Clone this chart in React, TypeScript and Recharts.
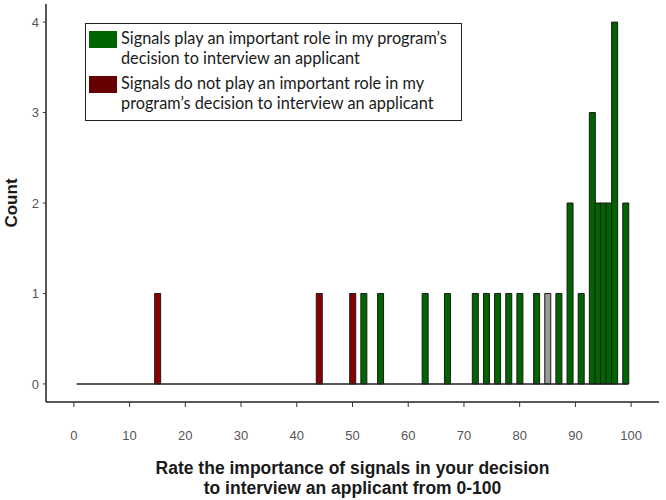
import { BarChart, Bar, XAxis, YAxis, ReferenceLine } from 'recharts'

// scores (0-100 rating) and how many programs gave each one
const importantScores = [52, 55, 63, 67, 72, 74, 76, 78, 80, 83, 87, 89, 91, 93, 94, 95, 96, 97, 99]
const importantCounts = [1, 1, 1, 1, 1, 1, 1, 1, 1, 1, 1, 2, 1, 3, 2, 2, 2, 4, 2]
const notImportantScores = [15, 44, 50]
const notImportantCounts = [1, 1, 1]
const otherScores = [85]
const otherCounts = [1]

const xTicks = [0, 10, 20, 30, 40, 50, 60, 70, 80, 90, 100]
const yTicks = [0, 1, 2, 3, 4]
const binRange = [0.5, 99.5]

const GREEN = '#006400'
const RED = '#8b0000'
const GRAY = '#999999'

const allScores = [...importantScores, ...notImportantScores, ...otherScores].sort((a, b) => a - b)
const data = allScores.map((score) => {
  const i = importantScores.indexOf(score)
  const n = notImportantScores.indexOf(score)
  const o = otherScores.indexOf(score)
  return {
    score,
    important: i >= 0 ? importantCounts[i] : 0,
    notImportant: n >= 0 ? notImportantCounts[n] : 0,
    other: o >= 0 ? otherCounts[o] : 0,
  }
})

const legendItems = [
  { color: GREEN, text: ['Signals play an important role in my program’s', 'decision to interview an applicant'] },
  { color: '#660000', text: ['Signals do not play an important role in my', 'program’s decision to interview an applicant'] },
]

const tickStyle = { fill: '#555', fontSize: 13, fontFamily: 'Liberation Sans, Arial, sans-serif' }
const titleFont = 'Liberation Sans, Arial, sans-serif'

function XTitle(props: any) {
  const { x, y, width } = props.viewBox
  const cx = x + width / 2
  return (
    <text x={cx} textAnchor='middle' fontFamily={titleFont} fontWeight='bold' fontSize={17.5} fill='#1a1a1a'>
      <tspan x={cx} y={y + 72}>Rate the importance of signals in your decision</tspan>
      <tspan x={cx} y={y + 91.5}>to interview an applicant from 0-100</tspan>
    </text>
  )
}

function YTitle(props: any) {
  const { y, height } = props.viewBox
  const cy = y + height / 2
  return (
    <text
      x={11}
      y={cy}
      transform={`rotate(-90, 11, ${cy})`}
      textAnchor='middle'
      dominantBaseline='central'
      fontFamily={titleFont}
      fontWeight='bold'
      fontSize={17}
      fill='#1a1a1a'
    >
      Count
    </text>
  )
}

export default function App() {
  return (
    <div style={{ position: 'absolute', left: 0, top: 0, width: 666, height: 500, background: '#fff' }}>
      <BarChart
        width={666}
        height={500}
        data={data}
        margin={{ top: 4, right: 7, left: 0, bottom: 0 }}
        barCategoryGap={0}
        barGap={0}
      >
        <XAxis
          dataKey='score'
          type='number'
          domain={[-5, 105]}
          allowDataOverflow
          ticks={xTicks}
          height={98}
          tickSize={5}
          tickMargin={24}
          tick={tickStyle}
          axisLine={{ stroke: '#222', strokeWidth: 1.5 }}
          tickLine={{ stroke: '#333' }}
          label={{ content: XTitle }}
        />
        <YAxis
          type='number'
          domain={[-0.2, 4.2]}
          allowDataOverflow
          ticks={yTicks}
          width={46}
          tickSize={3}
          tickMargin={4}
          tick={tickStyle}
          axisLine={{ stroke: '#222', strokeWidth: 1.5 }}
          tickLine={{ stroke: '#333' }}
          label={{ content: YTitle }}
        />
        <ReferenceLine
          segment={[
            { x: binRange[0], y: 0 },
            { x: binRange[1], y: 0 },
          ]}
          stroke='#222'
          strokeWidth={1.5}
        />
        <Bar dataKey='important' stackId='s' fill={GREEN} stroke='#1a1a1a' strokeWidth={1} isAnimationActive={false} />
        <Bar dataKey='notImportant' stackId='s' fill={RED} stroke='#1a1a1a' strokeWidth={1} isAnimationActive={false} />
        <Bar dataKey='other' stackId='s' fill={GRAY} stroke='#1a1a1a' strokeWidth={1} isAnimationActive={false} />
      </BarChart>

      <div
        style={{
          position: 'absolute',
          left: 85,
          top: 23,
          width: 377,
          height: 98,
          boxSizing: 'border-box',
          border: '1.5px solid #222',
          background: '#fff',
          fontFamily: 'Lato, sans-serif',
          fontSize: 16.3,
          lineHeight: '20px',
          color: '#1a1a1a',
          padding: '4px 0 0 3px',
        }}
      >
        {legendItems.map((item, i) => (
          <div key={i} style={{ display: 'flex', alignItems: 'flex-start', marginBottom: 5 }}>
            <div style={{ width: 28, height: 17, background: item.color, marginTop: 3, marginRight: 4, flexShrink: 0 }} />
            <div>
              {item.text.map((line, j) => (
                <div key={j} style={{ whiteSpace: 'nowrap' }}>
                  {line}
                </div>
              ))}
            </div>
          </div>
        ))}
      </div>
    </div>
  )
}
